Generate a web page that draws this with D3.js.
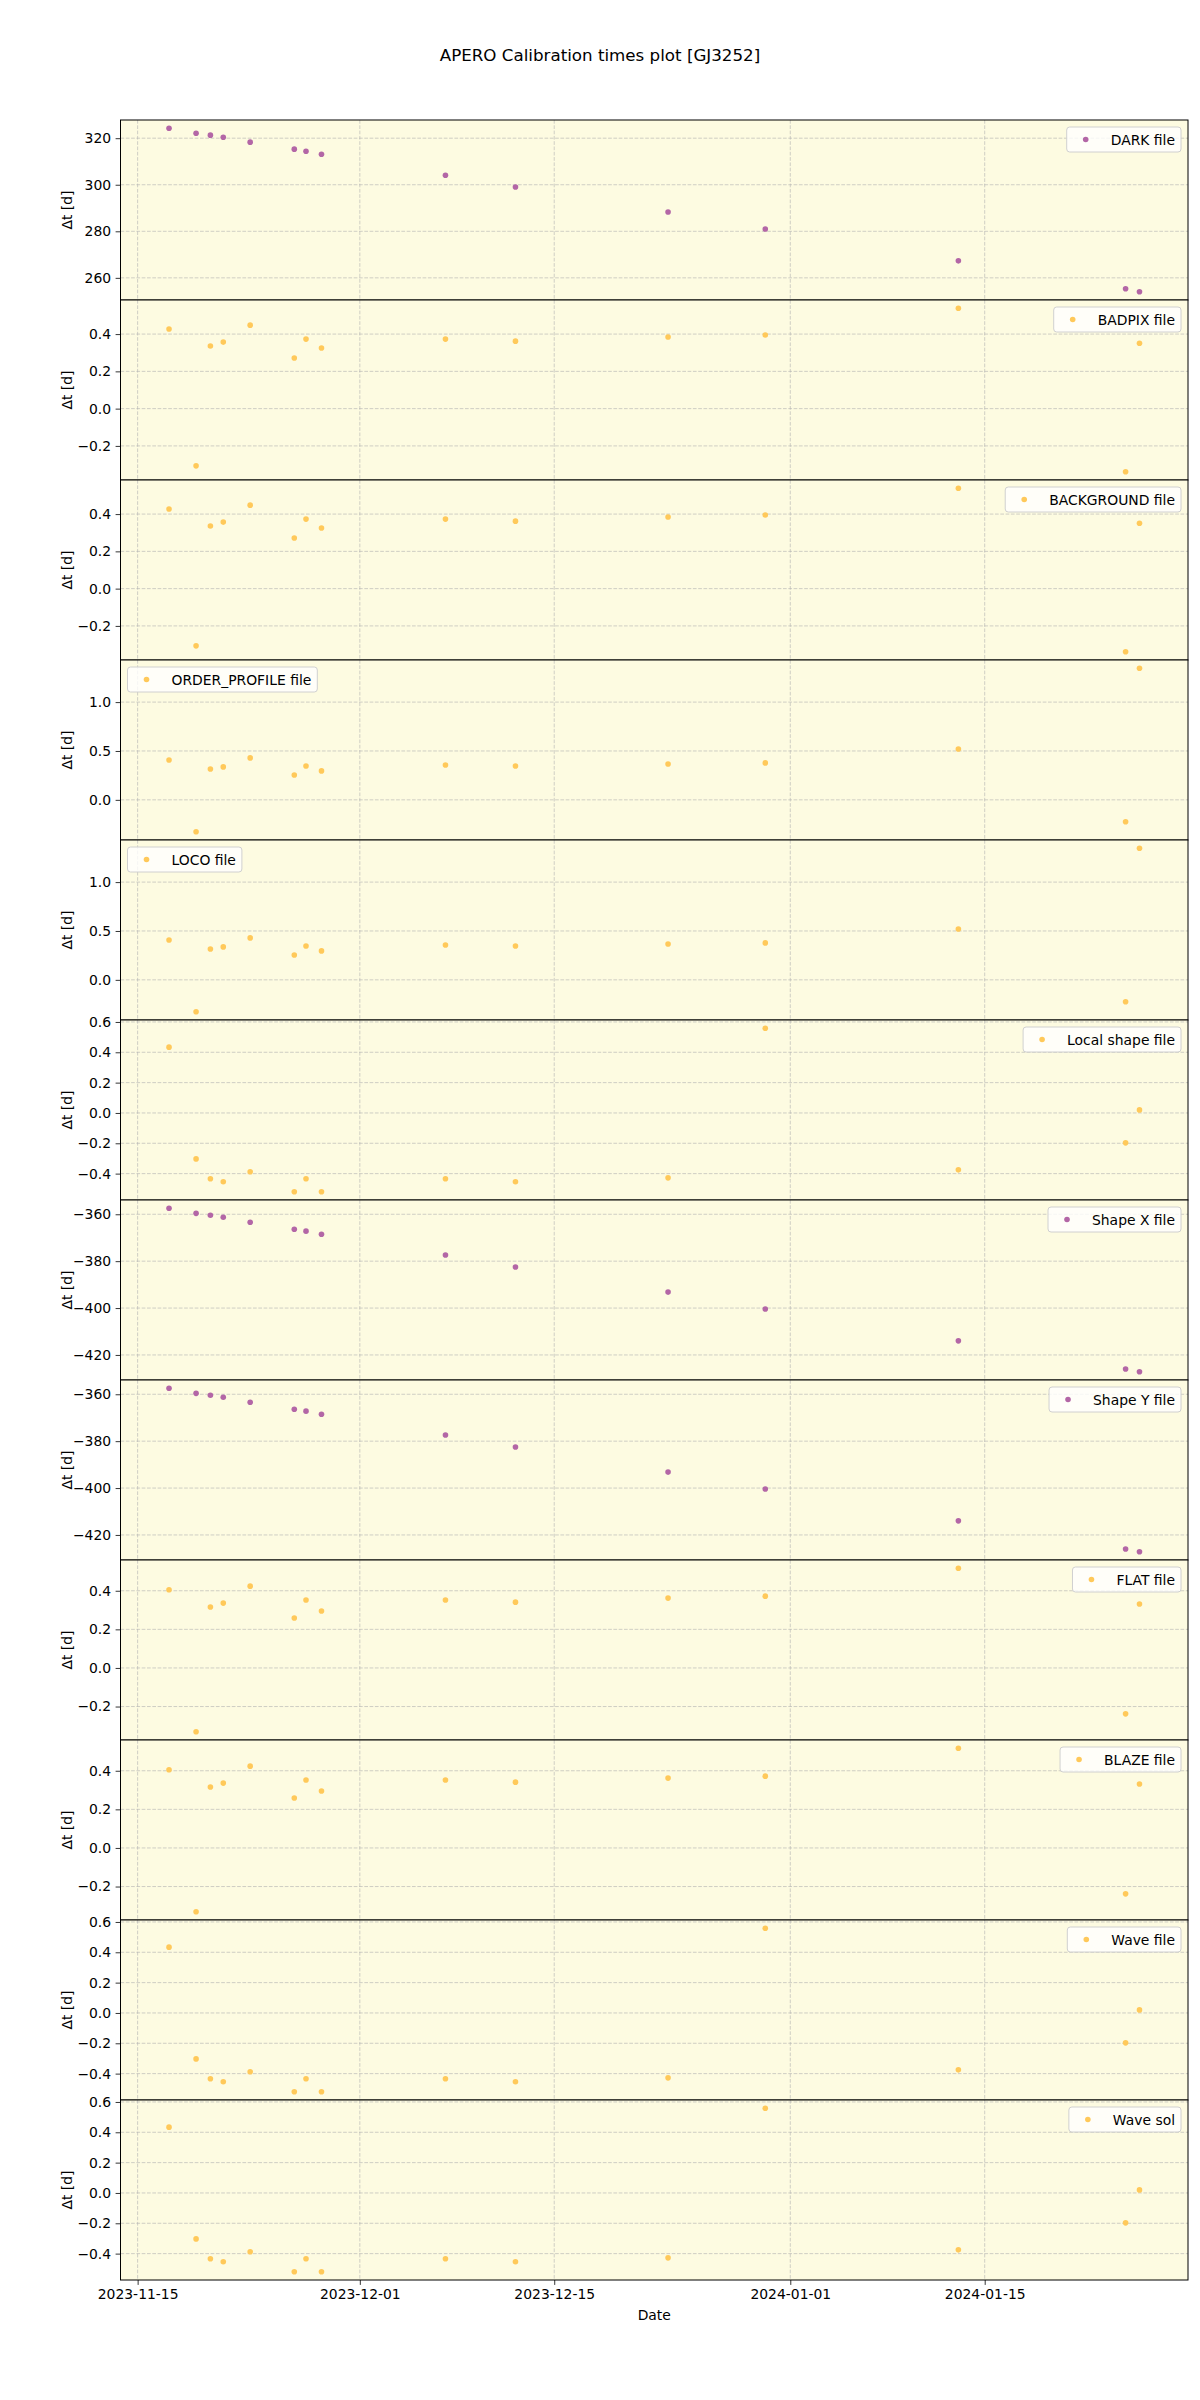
<!DOCTYPE html>
<html>
<head>
<meta charset="utf-8">
<script src="https://cdn.jsdelivr.net/npm/d3@7"></script>
<style>
body { margin: 0; background: #fff; }
text { font-family: "DejaVu Sans", sans-serif; }
</style>
</head>
<body>
<script>
var width = 1200;
var height = 2400;
var marginLeft = 120.5;
var marginRight = 12;
var marginTop = 120;
var panelHeight = 180;

// observation dates (UTC)
var dates = ["2023-11-17T06:15", "2023-11-19T05:00", "2023-11-20T05:45", "2023-11-21T04:00",
    "2023-11-23T02:30", "2023-11-26T06:45", "2023-11-27T03:00", "2023-11-28T05:45",
    "2023-12-07T04:00", "2023-12-12T05:00", "2023-12-23T04:45", "2023-12-30T04:45",
    "2024-01-13T02:30", "2024-01-25T03:30", "2024-01-26T03:30"];

var tickDates = ["2023-11-15", "2023-12-01", "2023-12-15", "2024-01-01", "2024-01-15"];

var darkValues = [324.3, 322.1, 321.3, 320.4, 318.3, 315.3, 314.4, 313.1, 304.1, 299.0, 288.3, 281.0, 267.3, 255.3, 254.0];
var badpixValues = [0.427, -0.307, 0.336, 0.357, 0.448, 0.272, 0.373, 0.325, 0.373, 0.362, 0.384, 0.395, 0.539, -0.339, 0.351];
var backgroundValues = [0.427, -0.307, 0.336, 0.357, 0.448, 0.272, 0.373, 0.325, 0.373, 0.362, 0.384, 0.395, 0.539, -0.339, 0.351];
var orderProfileValues = [0.408, -0.327, 0.316, 0.337, 0.429, 0.255, 0.347, 0.296, 0.357, 0.347, 0.367, 0.378, 0.520, -0.224, 1.347];
var locoValues = [0.408, -0.327, 0.316, 0.337, 0.429, 0.255, 0.347, 0.296, 0.357, 0.347, 0.367, 0.378, 0.520, -0.224, 1.347];
var localShapeValues = [0.434, -0.303, -0.434, -0.454, -0.388, -0.520, -0.434, -0.520, -0.434, -0.454, -0.428, 0.559, -0.375, -0.197, 0.020];
var shapeXValues = [-357.4, -359.6, -360.4, -361.3, -363.4, -366.4, -367.2, -368.5, -377.4, -382.5, -393.2, -400.4, -414.0, -426.0, -427.2];
var shapeYValues = [-357.4, -359.6, -360.4, -361.3, -363.4, -366.4, -367.2, -368.5, -377.4, -382.5, -393.2, -400.4, -414.0, -426.0, -427.2];
var flatValues = [0.405, -0.331, 0.316, 0.336, 0.424, 0.259, 0.352, 0.295, 0.352, 0.341, 0.362, 0.372, 0.517, -0.238, 0.331];
var blazeValues = [0.405, -0.331, 0.316, 0.336, 0.424, 0.259, 0.352, 0.295, 0.352, 0.341, 0.362, 0.372, 0.517, -0.238, 0.331];
var waveFileValues = [0.434, -0.303, -0.434, -0.454, -0.388, -0.520, -0.434, -0.520, -0.434, -0.454, -0.428, 0.559, -0.375, -0.197, 0.020];
var waveSolValues = [0.434, -0.303, -0.434, -0.454, -0.388, -0.520, -0.434, -0.520, -0.434, -0.454, -0.428, 0.559, -0.375, -0.197, 0.020];

var purple = "#b366a6";
var orange = "#ffc95a";

var panels = [
    { label: "DARK file", values: darkValues, color: purple, legend: "right" },
    { label: "BADPIX file", values: badpixValues, color: orange, legend: "right" },
    { label: "BACKGROUND file", values: backgroundValues, color: orange, legend: "right" },
    { label: "ORDER_PROFILE file", values: orderProfileValues, color: orange, legend: "left" },
    { label: "LOCO file", values: locoValues, color: orange, legend: "left" },
    { label: "Local shape file", values: localShapeValues, color: orange, legend: "right" },
    { label: "Shape X file", values: shapeXValues, color: purple, legend: "right" },
    { label: "Shape Y file", values: shapeYValues, color: purple, legend: "right" },
    { label: "FLAT file", values: flatValues, color: orange, legend: "right" },
    { label: "BLAZE file", values: blazeValues, color: orange, legend: "right" },
    { label: "Wave file", values: waveFileValues, color: orange, legend: "right" },
    { label: "Wave sol", values: waveSolValues, color: orange, legend: "right" }
];

var parseTime = d3.utcParse("%Y-%m-%dT%H:%M");
var parseDay = d3.utcParse("%Y-%m-%d");
var times = dates.map(parseTime);
var ticks = tickDates.map(parseDay);

var svg = d3.select("body").append("svg")
    .attr("width", width)
    .attr("height", height);

var plotRight = width - marginRight;

// x domain with 5% padding like matplotlib
var tExt = d3.extent(times);
var tPad = (tExt[1] - tExt[0]) * 0.05;
var xScale = d3.scaleUtc()
    .domain([new Date(+tExt[0] - tPad), new Date(+tExt[1] + tPad)])
    .range([marginLeft, plotRight]);

svg.append("text")
    .attr("x", width / 2)
    .attr("y", 61)
    .attr("text-anchor", "middle")
    .style("font-size", "16.7px")
    .text("APERO Calibration times plot [GJ3252]");

panels.forEach(function (p, i) {
    var top = marginTop + i * panelHeight;
    var bottom = top + panelHeight;
    var g = svg.append("g");

    var ext = d3.extent(p.values);
    var pad = (ext[1] - ext[0]) * 0.05;
    var yScale = d3.scaleLinear().domain([ext[0] - pad, ext[1] + pad]).range([bottom, top]);

    g.append("rect")
        .attr("x", marginLeft).attr("y", top)
        .attr("width", plotRight - marginLeft).attr("height", panelHeight)
        .attr("fill", "#fdfbe1");

    // grid
    g.selectAll(".vgrid").data(ticks).enter().append("line")
        .attr("x1", d => xScale(d)).attr("x2", d => xScale(d))
        .attr("y1", top).attr("y2", bottom)
        .attr("stroke", "#b0b0b0").attr("stroke-opacity", 0.75)
        .attr("stroke-width", 0.8).attr("stroke-dasharray", "3.7,1.6");
    var yTicks = yScale.ticks(5);
    g.selectAll(".hgrid").data(yTicks).enter().append("line")
        .attr("x1", marginLeft).attr("x2", plotRight)
        .attr("y1", d => yScale(d)).attr("y2", d => yScale(d))
        .attr("stroke", "#b0b0b0").attr("stroke-opacity", 0.75)
        .attr("stroke-width", 0.8).attr("stroke-dasharray", "3.7,1.6");

    var yAxis = d3.axisLeft(yScale).ticks(5).tickSize(4.9).tickPadding(4.5);
    var ya = g.append("g")
        .attr("transform", "translate(" + marginLeft + ",0)")
        .call(yAxis);
    ya.select(".domain").remove();
    ya.selectAll("line").attr("stroke", "#000").attr("stroke-width", 0.8);
    ya.selectAll("text").style("font-size", "13.9px").attr("fill", "#000")
        .style("font-family", "'DejaVu Sans', sans-serif");

    g.append("text")
        .attr("transform", "translate(72," + (top + panelHeight / 2) + ") rotate(-90)")
        .attr("text-anchor", "middle")
        .style("font-size", "13.9px")
        .text("\u0394t [d]");

    g.selectAll("circle")
        .data(p.values)
        .enter().append("circle")
        .attr("cx", (d, k) => xScale(times[k]))
        .attr("cy", d => yScale(d))
        .attr("r", 2.8)
        .attr("fill", p.color);

    g.append("rect")
        .attr("x", marginLeft).attr("y", top)
        .attr("width", plotRight - marginLeft).attr("height", panelHeight)
        .attr("fill", "none").attr("stroke", "#000").attr("stroke-width", 1);

    // legend
    var lg = g.append("g");
    var box = lg.append("rect").attr("rx", 3).attr("ry", 3)
        .attr("fill", "#fff").attr("fill-opacity", 0.8)
        .attr("stroke", "#d0d0d0").attr("stroke-width", 1);
    var txt = lg.append("text").style("font-size", "13.9px").text(p.label);
    var tw = txt.node().getComputedTextLength();
    var bw = tw + 50;
    var bx = p.legend === "right" ? plotRight - 7 - bw : marginLeft + 7;
    var by = top + 7;
    box.attr("x", bx).attr("y", by).attr("width", bw).attr("height", 25);
    lg.append("circle").attr("cx", bx + 19).attr("cy", by + 12.5).attr("r", 2.8).attr("fill", p.color);
    txt.attr("x", bx + 44).attr("y", by + 17.5);

    if (i === panels.length - 1) {
        var xAxis = d3.axisBottom(xScale).tickValues(ticks)
            .tickFormat(d3.utcFormat("%Y-%m-%d")).tickSize(4.9).tickPadding(4.5);
        var xa = g.append("g")
            .attr("transform", "translate(0," + bottom + ")")
            .call(xAxis);
        xa.select(".domain").remove();
        xa.selectAll("line").attr("stroke", "#000").attr("stroke-width", 0.8);
        xa.selectAll("text").style("font-size", "13.9px").attr("fill", "#000")
            .style("font-family", "'DejaVu Sans', sans-serif");

        g.append("text")
            .attr("x", (marginLeft + plotRight) / 2)
            .attr("y", 2320)
            .attr("text-anchor", "middle")
            .style("font-size", "13.9px")
            .text("Date");
    }
});
</script>
</body>
</html>
